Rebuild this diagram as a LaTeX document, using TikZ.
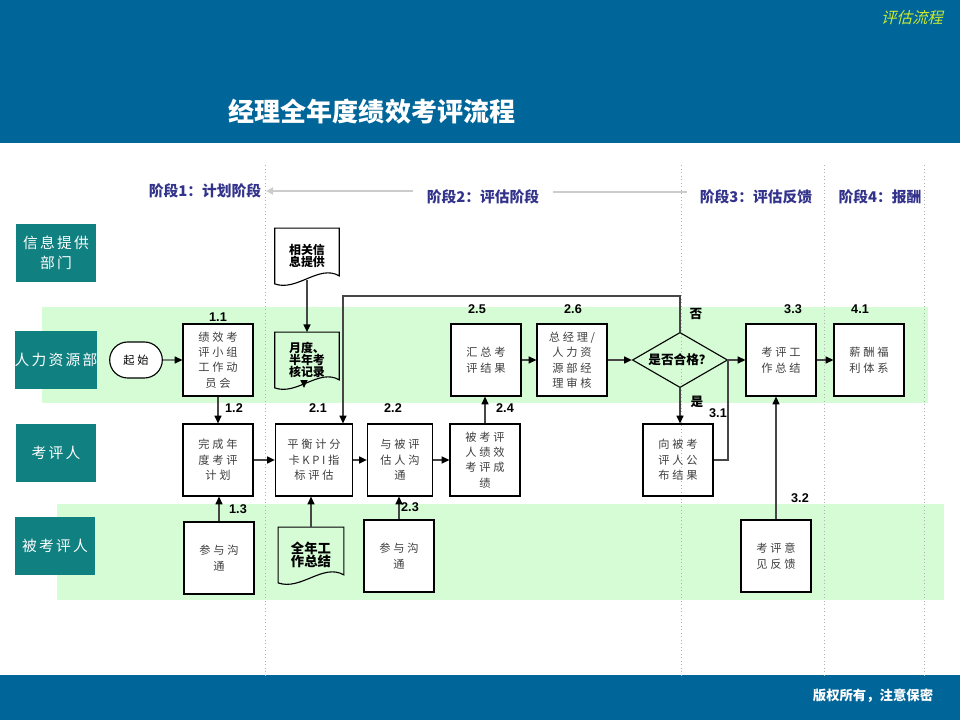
\documentclass[tikz,border=0pt]{standalone}
\usepackage{fontspec}
\setmainfont{Noto Sans CJK SC}
\newfontfamily\numfont{Liberation Sans}
\newfontfamily\boxfont[LetterSpace=24]{Noto Sans CJK SC}
\newfontfamily\lanefont[LetterSpace=15]{Noto Sans CJK SC}
\newfontfamily\tagfont[FakeSlant=0.25]{Noto Sans CJK SC}
\usetikzlibrary{arrows.meta, positioning, shapes.geometric, shapes.misc, calc}
\definecolor{HeadBlue}{RGB}{0,101,152}
\definecolor{LaneTeal}{RGB}{16,128,128}
\definecolor{BandGreen}{RGB}{214,252,214}
\definecolor{PhaseBlue}{RGB}{51,51,140}
\definecolor{TagGreen}{RGB}{200,235,50}
\definecolor{LineGray}{RGB}{70,70,70}
% outline of a document node (wavy lower edge)
\newcommand{\docoutline}[1]{%
  \draw[docline] (#1.north west) -- (#1.north east) -- ($(#1.south east)+(0,-8)$)
    .. controls ($(#1.south)+(12,-20)$) and ($(#1.south)+(-10,8)$) .. (#1.south west) -- cycle;}

\begin{document}
\begin{tikzpicture}[x=0.025cm, y=-0.025cm,
    lane/.style={fill=LaneTeal, text=white, minimum width=1.98cm, minimum height=1.43cm, align=center, inner sep=0pt, font=\lanefont\fontsize{10.5}{14}\selectfont},
    stepbox/.style={draw, line width=0.8pt, fill=white, minimum width=1.75cm, minimum height=1.8cm, align=center, inner sep=1pt, text=black!75, font=\boxfont\fontsize{8}{11}\selectfont},
    docnode/.style={minimum width=1.6cm, minimum height=1.38cm, align=left, inner sep=0pt, font=\bfseries\fontsize{8.5}{8.3}\selectfont},
    docline/.style={draw, line width=0.8pt},
    flow/.style={draw=LineGray, line width=0.9pt, -{Triangle[length=5.5pt,width=5pt,black]}},
    link/.style={draw=LineGray, line width=0.9pt},
    numlbl/.style={font=\numfont\bfseries\fontsize{9}{10}\selectfont},
    phase/.style={text=PhaseBlue, font=\bfseries\fontsize{10.5}{12}\selectfont},
    divider/.style={draw=gray!60, dotted, line width=0.5pt},
    band/.style={fill=BandGreen, draw=none}]
    \useasboundingbox (0,0) rectangle (960,720);

    % header and footer
    \fill[HeadBlue] (0,0) rectangle (960,143);
    \fill[HeadBlue] (0,675) rectangle (960,720);
    \node[text=white, font=\bfseries\fontsize{18.5}{20}\selectfont] (title) at (372,112) {经理全年度绩效考评流程};
    \node[text=TagGreen, font=\tagfont\fontsize{11}{12}\selectfont] (tag) at (912,18) {评估流程};
    \node[text=white, font=\bfseries\fontsize{9.5}{11}\selectfont] (foot) at (873,696) {版权所有，注意保密};

    % lanes
    \fill[band] (42,307) rectangle (928,403);
    \fill[band] (57,504) rectangle (944,600);
    \node[lane] (laneInfo) at (56,253) {信息提供\\部门};
    \node[lane] (laneHR) at (56,360) {人力资源部};
    \node[lane] (laneRev) at (56,453) {考评人};
    \node[lane] (laneEmp) at (55,546) {被考评人};

    % phases
    \draw[divider] (265,165) -- (265,675);
    \draw[divider] (681,165) -- (681,675);
    \draw[divider] (824,165) -- (824,675);
    \draw[divider] (924,165) -- (924,675);
    \node[phase] (ph1) at (205,191) {阶段1：计划阶段};
    \node[phase] (ph2) at (483,197) {阶段2：评估阶段};
    \node[phase] (ph3) at (756,197) {阶段3：评估反馈};
    \node[phase] (ph4) at (880,197) {阶段4：报酬};
    \coordinate (phA) at (413,191);
    \coordinate (phL) at (266,191);
    \coordinate (phB) at (553,192);
    \coordinate (phR) at (687,192);
    \draw[black!20, line width=1.4pt, -{Triangle[length=5pt,width=5pt]}] (phA) -- (phL);
    \draw[black!20, line width=1.4pt] (phB) -- (phR);

    % steps
    \node[draw, line width=0.8pt, fill=white, rounded rectangle, minimum width=1.55cm, minimum height=0.9cm, font=\boxfont\fontsize{8}{11}\selectfont] (start) at (136,360) {起始};
    \node[stepbox] (n11) at (218,360) {绩效考\\评小组\\工作动\\员会};
    \node[stepbox] (n12) at (218,460) {完成年\\度考评\\计划};
    \node[stepbox] (n13) at (219,558) {参与沟\\通};
    \node[docnode] (docInfo) at (307,256) {相关信\\息提供};
    \node[docnode] (docMonth) at (307,360) {月度、\\半年考\\核记录};
    \node[stepbox, minimum width=1.93cm] (n21) at (314,460) {平衡计分\\卡KPI指\\标评估};
    \node[docnode, minimum width=1.63cm, font=\bfseries\fontsize{9.5}{9.5}\selectfont] (docYear) at (311,555) {全年工\\作总结};
    \node[stepbox, minimum width=1.63cm] (n22) at (400,460) {与被评\\估人沟\\通};
    \node[stepbox] (n23) at (399,556) {参与沟\\通};
    \node[stepbox] (n24) at (485,460) {被考评\\人绩效\\考评成\\绩};
    \node[stepbox] (n25) at (486,360) {汇总考\\评结果};
    \node[stepbox] (n26) at (572,360) {总经理/\\人力资\\源部经\\理审核};
    \node[draw, line width=0.8pt, diamond, aspect=1.75, minimum width=2.38cm, minimum height=1.38cm, inner sep=0pt, font=\bfseries\fontsize{9}{10}\selectfont] (check) at (680,360) {是否合格？};
    \node[stepbox, fill=none] (n31) at (678,460) {向被考\\评人公\\布结果};
    \node[stepbox] (n32) at (776,556) {考评意\\见反馈};
    \node[stepbox] (n33) at (781,360) {考评工\\作总结};
    \node[stepbox] (n41) at (869,360) {薪酬福\\利体系};
    \docoutline{docInfo}
    \docoutline{docMonth}
    \docoutline{docYear}

    % step numbers
    \node[numlbl] at (218,317) {1.1};
    \node[numlbl] at (234,408) {1.2};
    \node[numlbl] at (238,509) {1.3};
    \node[numlbl] at (318,408) {2.1};
    \node[numlbl] at (393,408) {2.2};
    \node[numlbl] at (410,507) {2.3};
    \node[numlbl] at (505,408) {2.4};
    \node[numlbl] at (477,309) {2.5};
    \node[numlbl] at (573,309) {2.6};
    \node[numlbl] at (718,413) {3.1};
    \node[numlbl] at (800,498) {3.2};
    \node[numlbl] at (793,309) {3.3};
    \node[numlbl] at (860,309) {4.1};
    \node[font=\bfseries\fontsize{9}{10}\selectfont] (no) at (696,314) {否};
    \node[font=\bfseries\fontsize{9}{10}\selectfont] (yes) at (697,402) {是};

    % connectors
    \draw[flow] (start) -- (n11);
    \draw[flow] (n11) -- (n12);
    \draw[flow] (n13.north) -- (n13.north |- n12.south);
    \draw[flow] (n12) -- (n21);
    \draw[flow] ($(docInfo.south)+(0,-4)$) -- (docMonth.north);
    \draw[flow] ($(docMonth.south)+(-3,-3)$) -- ($(docMonth.south)+(-3,0)$ |- n21.north);
    \draw[flow] (docYear.north) -- (docYear.north |- n21.south);
    \draw[flow] (n21) -- (n22);
    \draw[flow] (n23.north) -- (n23.north |- n22.south);
    \draw[flow] (n22) -- (n24);
    \draw[flow] (n24.north) -- (n24.north |- n25.south);
    \draw[flow] (n25) -- (n26);
    \draw[flow] (n26) -- (check);
    \coordinate (loopTop) at (343,296);
    \draw[flow] (check.north) |- (loopTop) -- (loopTop |- n21.north);
    \draw[flow] (check.south) -- (check.south |- n31.north);
    \draw[flow] (check.east) -- (n33.west);
    \coordinate (join) at (728,360);
    \draw[link] (n31.east) -| (join);
    \draw[flow] (n32.north) -- (n32.north |- n33.south);
    \draw[flow] (n33) -- (n41);
\end{tikzpicture}
\end{document}
